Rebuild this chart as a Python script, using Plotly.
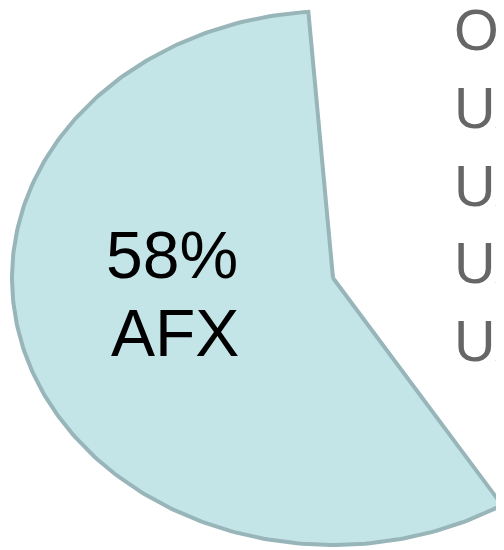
import numpy as np
import plotly.graph_objects as go

# ---- data ----
labels = ["AFX", "Other", "UAL", "UAE", "UAB", "UAS"]
values = [57.6, 14.4, 8, 7, 7, 6]

# ---- style ----
FILL_MAIN = "rgb(196,229,232)"
LINE_MAIN = "rgb(152,182,185)"
TRANSPARENT = "rgba(0,0,0,0)"
FONT = "Liberation Sans, Arial, sans-serif"
START_ANGLE = 94.4  # degrees, slices run counterclockwise

total = float(sum(values))
fig = go.Figure()

start = START_ANGLE
label_pos = None
for i, (lab, val) in enumerate(zip(labels, values)):
    span = val / total * 360.0
    th = np.radians(np.linspace(start, start + span, 240))
    xs = np.concatenate([[0.0], np.cos(th), [0.0]])
    ys = np.concatenate([[0.0], np.sin(th), [0.0]])
    main = i == 0
    fig.add_trace(go.Scatter(
        x=xs, y=ys, mode="lines", fill="toself",
        fillcolor=FILL_MAIN if main else TRANSPARENT,
        line=dict(color=LINE_MAIN if main else TRANSPARENT, width=4 if main else 0),
        name=lab, showlegend=not main, hoverinfo="skip",
    ))
    if main:
        mid = np.radians(start + span / 2)
        label_pos = (0.5 * np.cos(mid), 0.5 * np.sin(mid),
                     f"{val / total * 100:.0f}%", lab)
    start += span

fig.add_annotation(
    x=label_pos[0], y=label_pos[1], text=label_pos[2], showarrow=False,
    xshift=-8, yshift=64,
    font=dict(family=FONT, size=66, color="black"),
)
fig.add_annotation(
    x=label_pos[0], y=label_pos[1], text=label_pos[3], showarrow=False,
    xshift=-5, yshift=-14,
    font=dict(family=FONT, size=66, color="black"),
)

fig.update_layout(
    width=504, height=550,
    margin=dict(l=0, r=0, t=0, b=0, autoexpand=False),
    paper_bgcolor="white", plot_bgcolor="white",
    xaxis=dict(range=[-1.01246, 0.55763], visible=False, fixedrange=True),
    yaxis=dict(range=[-1.04869, 1.01124], visible=False, fixedrange=True),
    showlegend=True,
    legend=dict(
        x=0.8056, y=1.044, xanchor="left", yanchor="top",
        font=dict(family=FONT, size=57.5, color="#666666"),
        bgcolor=TRANSPARENT, tracegroupgap=0, maxheight=1000,
    ),
)

fig.write_html("out.html", post_script="document.body.style.overflow='hidden';")
